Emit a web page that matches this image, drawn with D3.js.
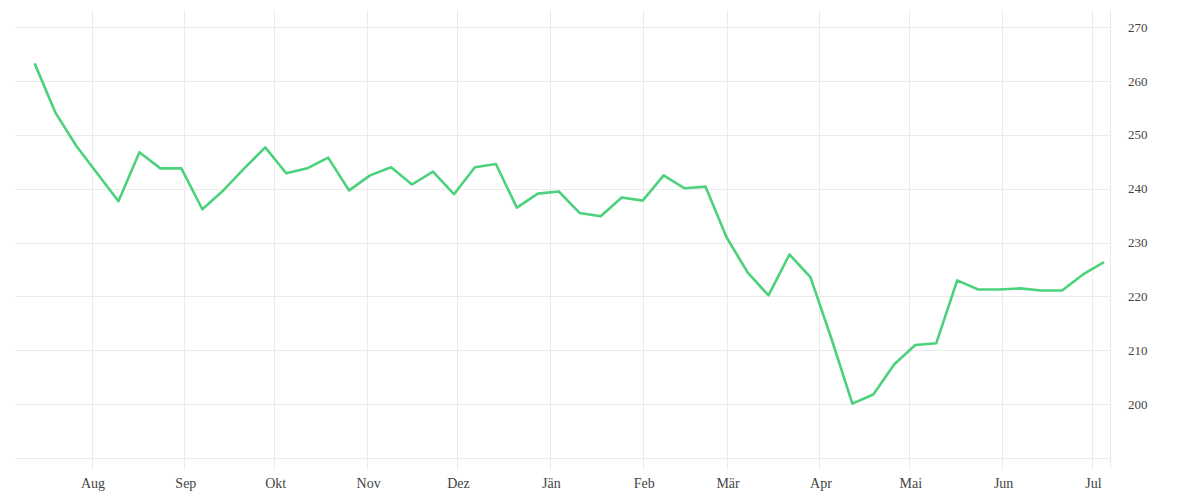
<!DOCTYPE html>
<html><head><meta charset="utf-8">
<script src="https://cdn.jsdelivr.net/npm/d3@7"></script>
<style>
html,body{margin:0;padding:0;background:#fff;}
svg{display:block;}
text{font-family:"Liberation Serif","DejaVu Serif",serif;fill:#444;}
</style></head>
<body>
<svg id="chart" width="1200" height="500"></svg>
<script>
// weekly dates starting 2022-07-13
const startDate = new Date(2022, 6, 13);
const values = [
  263.3, 254.1, 247.9, 242.8, 237.7, 246.8, 243.8, 243.8, 236.2, 239.7,
  243.8, 247.7, 242.9, 243.8, 245.8, 239.7, 242.5, 244.0, 240.8, 243.2,
  239.0, 244.0, 244.6, 236.5, 239.1, 239.5, 235.5, 234.9, 238.4, 237.8,
  242.5, 240.1, 240.4, 231.0, 224.5, 220.2, 227.8, 223.6, 212.2, 200.1,
  201.8, 207.4, 211.0, 211.3, 223.0, 221.3, 221.3, 221.5, 221.1, 221.1,
  224.1, 226.4
];
const yTicks = [190, 200, 210, 220, 230, 240, 250, 260, 270];
const yLabels = [200, 210, 220, 230, 240, 250, 260, 270];
const monthNames = ["Jän","Feb","Mär","Apr","Mai","Jun","Jul","Aug","Sep","Okt","Nov","Dez"];

(function () {
const data = values.map((v, i) => ({date: d3.timeDay.offset(startDate, i * 7), value: v}));

const svg = d3.select("#chart");
const pLeft = 15, pRight = 1110, pTop = 10, pBottom = 470;

const x = d3.scaleTime()
  .domain([new Date(2022, 7, 1), new Date(2023, 6, 1)])
  .range([91.5, 1092]);
const y = d3.scaleLinear().domain([190, 270]).range([458, 27.3]);

const monthTicks = d3.timeMonth.range(new Date(2022, 7, 1), new Date(2023, 6, 2));

// horizontal grid
svg.append("g").selectAll("line").data(yTicks).join("line")
  .attr("x1", pLeft).attr("x2", pRight)
  .attr("y1", d => Math.round(y(d)) + 0.5).attr("y2", d => Math.round(y(d)) + 0.5)
  .attr("stroke", "#ebebeb").attr("stroke-width", 1);

// vertical grid
svg.append("g").selectAll("line").data(monthTicks).join("line")
  .attr("x1", d => Math.round(x(d)) + 0.5).attr("x2", d => Math.round(x(d)) + 0.5)
  .attr("y1", pTop).attr("y2", pBottom)
  .attr("stroke", "#ebebeb").attr("stroke-width", 1);

// right border
svg.append("line").attr("x1", pRight + 0.5).attr("x2", pRight + 0.5)
  .attr("y1", pTop).attr("y2", 468).attr("stroke", "#ebebeb");

// y labels
svg.append("g").selectAll("text").data(yLabels).join("text")
  .attr("x", 1128).attr("y", d => y(d) + 4.5)
  .attr("font-size", 13).text(d => d);

// x labels
svg.append("g").selectAll("text").data(monthTicks).join("text")
  .attr("x", d => x(d) + 1.5).attr("y", 488)
  .attr("text-anchor", "middle").attr("font-size", 14)
  .text(d => monthNames[d.getMonth()]);

// line
svg.append("path").datum(data)
  .attr("fill", "none").attr("stroke", "#4cd27c").attr("stroke-width", 2.6)
  .attr("stroke-linejoin", "round")
  .attr("d", d3.line().x(d => x(d.date)).y(d => y(d.value)));
})();
</script>
</body></html>
